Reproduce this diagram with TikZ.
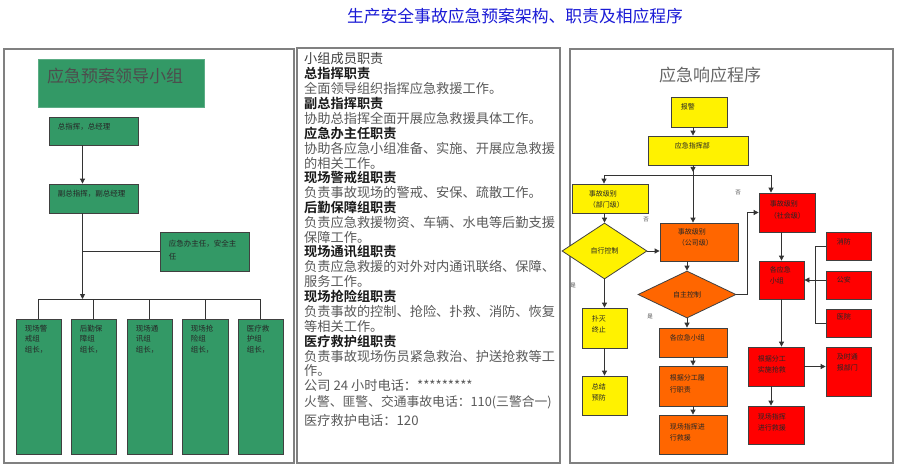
\documentclass[tikz,border=0pt]{standalone}
\usepackage{fontspec}
\setmainfont{Noto Sans CJK SC}[BoldFont={* Bold}]
\usetikzlibrary{arrows.meta,shapes.geometric,fit,calc}
\definecolor{sgreen}{HTML}{339966}
\definecolor{tblue}{HTML}{1A1AD6}
\definecolor{panel}{HTML}{808080}
\definecolor{dtext}{HTML}{4D4D4D}
\definecolor{gtext}{HTML}{5A5A5A}
\definecolor{ora}{HTML}{FF6600}
\newcommand\mkbox[6]{%
  \node[#1, fit={(#3) (#4)}] (#2) {};
  \node[boxtxt, anchor=north west] (#2t) at ($(#2.north west)+(#5)$) {#6};}
\begin{document}
\begin{tikzpicture}[x=1pt,y=-1pt,
  panelbox/.style={draw=panel, line width=1.2pt},
  bx/.style={draw=black!75, line width=0.8pt, inner sep=0pt},
  gbox/.style={bx, fill=sgreen},
  ybox/.style={bx, fill=yellow},
  obox/.style={bx, fill=ora},
  rbox/.style={bx, fill=red},
  boxtxt/.style={font=\fontsize{7}{11.5}\selectfont, align=left, inner sep=0pt, text=black!85},
  mt/.style={font=\fontsize{13.2}{15}\selectfont, anchor=west, inner sep=0pt, text=gtext},
  mh/.style={mt, font=\fontsize{13.2}{15}\selectfont\bfseries, text=black!90},
  lbl/.style={font=\fontsize{5.5}{6}\selectfont, inner sep=0pt, text=black!70},
  conn/.style={draw=black!80, line width=0.8pt},
  arr/.style={conn, -{Triangle[width=5pt,length=5pt]}},
  dia/.style={diamond, draw=black!75, line width=0.8pt, inner sep=0pt, font=\fontsize{7}{8}\selectfont, text=black!85},
]
\useasboundingbox (0,0) rectangle (900,471);
\fill[white] (0,0) rectangle (900,471);
% title
\node[font=\fontsize{16.8}{17}\selectfont, text=tblue, inner sep=0pt] (title) at (515,16) {生产安全事故应急预案架构、职责及相应程序};
% panels
\draw[panelbox] (4,49) rectangle (294,463);
\draw[panelbox] (297,48) rectangle (560,463);
\draw[panelbox] (570,49) rectangle (893,463);

% ---------- left panel ----------
\node[fill=sgreen, draw=sgreen!80!white, line width=0.6pt, inner sep=0pt, fit={(38,59) (204,107)}] (lead) {};
\node[font=\fontsize{17}{17}\selectfont, text=dtext, anchor=west, inner sep=0pt] (leadt) at (47,76) {应急预案领导小组};
\tikzset{boxtxt/.style={font=\fontsize{7.5}{10.5}\selectfont, align=left, inner sep=0pt, text=black!85}}
\mkbox{gbox}{l1}{49,117}{138,145}{9,6.2}{总指挥，总经理}
\mkbox{gbox}{l2}{49,184}{138,213}{9,6.2}{副总指挥，副总经理}
\mkbox{gbox}{l3}{160,232}{249,271}{9,8}{应急办主任，安全主\\[2.5pt]任}
\mkbox{gbox}{b1}{16,319}{61,454}{9,6}{现场警\\戒组\\组长，}
\mkbox{gbox}{b2}{71,319}{116,454}{9,6}{后勤保\\障组\\组长，}
\mkbox{gbox}{b3}{127,319}{172,454}{9,6}{现场通\\讯组\\组长，}
\mkbox{gbox}{b4}{182,319}{228,454}{9,6}{现场抢\\险组\\组长，}
\mkbox{gbox}{b5}{238,319}{283,454}{9,6}{医疗救\\护组\\组长，}
\coordinate (lx) at (82.5,0);
\coordinate (bus) at (0,299);
\draw[arr] (l1.south -| lx) -- (l2.north -| lx);
\draw[arr] (l2.south -| lx) -- (lx |- bus);
\draw[conn] (l3.west) -- (l3.west -| lx);
\draw[conn] (b1.north |- bus) -- (b5.north |- bus);
\foreach \b in {b1,b2,b3,b4,b5} \draw[conn] (\b.north |- bus) -- (\b.north);

% ---------- middle text ----------
\node[mt, text=black!75] (m0) at (304,59) {小组成员职责};
\node[mh] (m1) at (304,73.85) {总指挥职责};
\node[mt] (m2) at (304,88.7) {全面领导组织指挥应急救援工作。};
\node[mh] (m3) at (304,103.55) {副总指挥职责};
\node[mt] (m4) at (304,118.4) {协助总指挥全面开展应急救援具体工作。};
\node[mh] (m5) at (304,133.25) {应急办主任职责};
\node[mt] (m6) at (304,148.1) {协助各应急小组准备、实施、开展应急救援};
\node[mt] (m7) at (304,162.95) {的相关工作。};
\node[mh] (m8) at (304,177.8) {现场警戒组职责};
\node[mt] (m9) at (304,192.65) {负责事故现场的警戒、安保、疏散工作。};
\node[mh] (m10) at (304,207.5) {后勤保障组职责};
\node[mt] (m11) at (304,222.35) {负责应急救援物资、车辆、水电等后勤支援};
\node[mt] (m12) at (304,237.2) {保障工作。};
\node[mh] (m13) at (304,252.05) {现场通讯组职责};
\node[mt] (m14) at (304,266.9) {负责应急救援的对外对内通讯联络、保障、};
\node[mt] (m15) at (304,281.75) {服务工作。};
\node[mh] (m16) at (304,296.6) {现场抢险组职责};
\node[mt] (m17) at (304,311.45) {负责事故的控制、抢险、扑救、消防、恢复};
\node[mt] (m18) at (304,326.3) {等相关工作。};
\node[mh] (m19) at (304,341.15) {医疗救护组职责};
\node[mt] (m20) at (304,356) {负责事故现场伤员紧急救治、护送抢救等工};
\node[mt] (m21) at (304,370.85) {作。};
\node[mt] (m22) at (304,386) {公司 24 小时电话：*********};
\node[mt, font=\fontsize{12.8}{15}\selectfont] (m23) at (304,402) {火警、匪警、交通事故电话：110(三警合一)};
\node[mt] (m24) at (304,420) {医疗救护电话：120};

% ---------- right panel ----------
\tikzset{boxtxt/.style={font=\fontsize{7}{11.5}\selectfont, align=left, inner sep=0pt, text=black!85}}
\node[font=\fontsize{17}{17}\selectfont, text=black!60, inner sep=0pt] (rt) at (710,75) {应急响应程序};
\mkbox{ybox}{bj}{671,97}{727,127}{10,6.5}{报警}
\mkbox{ybox}{zhb}{648,136}{748,165}{27,6.5}{应急指挥部}
\mkbox{ybox}{sg}{572,184}{648,213}{17,6.5}{事故级别\\（部门级）}
\node[dia, fill=yellow, minimum width=85pt, minimum height=56pt] (d1) at (604.5,251) {自行控制};
\mkbox{ybox}{y1}{582,308}{627,348}{10,7.5}{扑灭\\终止}
\mkbox{ybox}{y2}{582,376}{627,415}{10,7.5}{总结\\预防}
\mkbox{obox}{o1}{660,223}{738,261}{18,5.5}{事故级别\\（公司级）}
\node[dia, fill=ora, minimum width=98pt, minimum height=47pt] (d2) at (687,294.5) {自主控制};
\mkbox{obox}{o2}{659,328}{727,357}{11,6.5}{各应急小组}
\mkbox{obox}{o3}{659,366}{727,406}{11,9}{根据分工履\\行职责}
\mkbox{obox}{o4}{659,415}{727,454}{11,8.5}{现场指挥进\\行救援}
\mkbox{rbox}{r1}{759,193}{815,232}{11,8}{事故级别\\（社会级）}
\mkbox{rbox}{r2}{759,261}{804,299}{11,5.5}{各应急\\小组}
\mkbox{rbox}{rs1}{826,232}{871,260}{11,6.5}{消防}
\mkbox{rbox}{rs2}{826,271}{871,299}{11,5.5}{公安}
\mkbox{rbox}{rs3}{826,309}{871,337}{11,4.5}{医院}
\mkbox{rbox}{r3}{748,347}{804,386}{10,8.5}{根据分工\\实施抢救}
\mkbox{rbox}{rs4}{826,347}{871,396}{11,6.5}{及时通\\报部门}
\mkbox{rbox}{r4}{748,406}{804,444}{10,7.5}{现场指挥\\进行救援}

\coordinate (cx) at (693,0);
\coordinate (hy) at (0,175);
\coordinate (lx2) at (604,0);
\coordinate (rx) at (771,0);
\coordinate (vx) at (747,0);
\coordinate (bx) at (815,0);
\coordinate (rx2) at (771,0);
\draw[arr] (bj.south -| cx) -- (zhb.north -| cx);
\draw[arr] (zhb.south -| cx) -- (o1.north -| cx);
\draw[arr] (zhb.south -| cx) -- ++(0,6.5);
\draw[conn] (lx2 |- hy) -- (rx |- hy);
\draw[arr] (lx2 |- hy) -- (sg.north -| lx2);
\draw[arr] (rx |- hy) -- (r1.north -| rx);
\draw[arr] (sg.south -| d1.north) -- (d1.north);
\draw[arr] (d1.east) -- (d1.east -| o1.west);
\draw[arr] (d1.south) -- (d1.south |- y1.north);
\draw[arr] (y1.south -| d1.south) -- (y2.north -| d1.south);
\draw[arr] (o1.south -| d2.north) -- (d2.north);
\draw[arr] (d2.south) -- (d2.south |- o2.north);
\draw[arr] (o2.south -| cx) -- (o3.north -| cx);
\draw[arr] (o3.south -| cx) -- (o4.north -| cx);
\draw[arr] (d2.east) -- (d2.east -| vx) -- (vx |- r1.west) -- (r1.west);
\draw[arr] (r1.south -| r2.north) -- (r2.north);
\draw[conn] (rs1.west) -- (rs1.west -| bx) -- (rs3.west -| bx) -- (rs3.west);
\draw[arr] (rs2.west |- r2.east) -- (r2.east);
\draw[arr] (r2.south) -- (r2.south |- r3.north);
\draw[arr] (r3.east) -- (r3.east -| rs4.west);
\draw[arr] (r3.south -| rx2) -- (r4.north -| rx2);
% branch labels
\node[lbl] (n1) at (646,220) {否};
\node[lbl] (n2) at (573,286) {是};
\node[lbl] (n3) at (738,193) {否};
\node[lbl] (n4) at (650,317) {是};
\end{tikzpicture}
\end{document}
